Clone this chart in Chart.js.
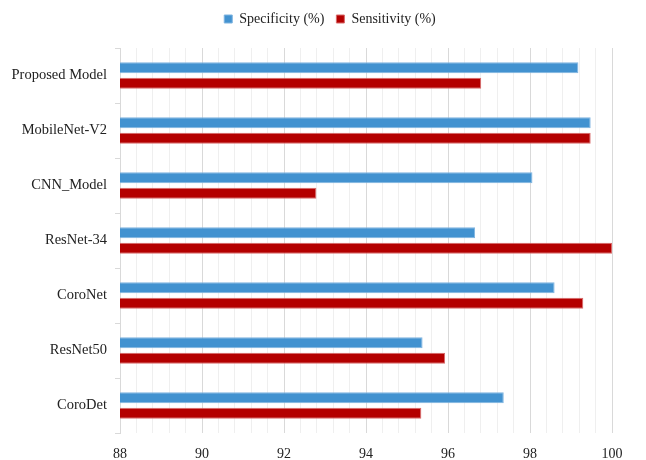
<!DOCTYPE html>
<html>
<head>
<meta charset="utf-8">
<script src="https://cdn.jsdelivr.net/npm/chart.js@4/dist/chart.umd.min.js"></script>
<style>
  html, body { margin: 0; padding: 0; background: #fff; }
  #wrap { width: 646px; height: 460px; }
</style>
</head>
<body>
<div id="wrap"><canvas id="c" width="646" height="460"></canvas></div>
<script>
const models = ['Proposed Model', 'MobileNet-V2', 'CNN_Model', 'ResNet-34', 'CoroNet', 'ResNet50', 'CoroDet'];
const specificity = [99.18, 99.48, 98.06, 96.66, 98.6, 95.38, 97.36];
const sensitivity = [96.81, 99.48, 92.79, 100, 99.3, 95.93, 95.35];
const seriesNames = ['Specificity (%)', 'Sensitivity (%)'];
const axisMin = 88, axisMax = 100, gridStep = 0.4, labelStep = 2;

const isLabelTick = v => Math.abs(v / labelStep - Math.round(v / labelStep)) < 1e-6;
const serif = 'Liberation Serif';

// Extra space under the legend and a small rightward shift of its items.
const legendSpacing = {
  id: 'legendSpacing',
  beforeLayout(chart) {
    const lg = chart.legend;
    if (lg && !lg._spaced) {
      const fit = lg.fit;
      lg.fit = function () { fit.call(this); this.height += 12; };
      lg._spaced = true;
    }
  },
  afterLayout(chart) {
    const lg = chart.legend;
    if (lg) { lg.left += 24; lg.right += 24; }
  }
};

new Chart(document.getElementById('c'), {
  type: 'bar',
  data: {
    labels: models,
    datasets: [
      { label: seriesNames[0], data: specificity, backgroundColor: '#4292d0', borderColor: '#7fb4e0', borderWidth: 1, borderSkipped: false },
      { label: seriesNames[1], data: sensitivity, backgroundColor: '#b40000', borderColor: '#d86a6a', borderWidth: 1, borderSkipped: false }
    ]
  },
  plugins: [legendSpacing],
  options: {
    indexAxis: 'y',
    responsive: false,
    animation: false,
    devicePixelRatio: 1,
    categoryPercentage: 0.565,
    barPercentage: 0.72,
    layout: { padding: { left: 0, right: 34, top: 0, bottom: 0 } },
    plugins: {
      tooltip: { enabled: false },
      legend: {
        position: 'top',
        labels: {
          font: { family: serif, size: 14 },
          color: '#222',
          boxWidth: 8,
          boxHeight: 8,
          padding: 12,
          useBorderRadius: false
        }
      }
    },
    scales: {
      x: {
        type: 'linear',
        min: axisMin,
        max: axisMax,
        ticks: {
          stepSize: gridStep,
          autoSkip: false,
          maxRotation: 0,
          padding: 13,
          color: '#222',
          font: { family: serif, size: 14 },
          callback: v => isLabelTick(v) ? String(Math.round(v)) : ''
        },
        grid: {
          drawTicks: false,
          color: ctx => (ctx.tick && isLabelTick(ctx.tick.value)) ? '#d9d9d9' : '#efefef',
          lineWidth: 1
        },
        border: { display: false },
        afterFit: s => { s.height = 27; }
      },
      y: {
        ticks: {
          color: '#222',
          padding: 8,
          font: { family: serif, size: 14.5 }
        },
        grid: { drawOnChartArea: false, tickLength: 5, color: '#d9d9d9', offset: true },
        border: { color: '#d9d9d9' },
        afterFit: s => { s.width = 120; }
      }
    }
  }
});
</script>
</body>
</html>
